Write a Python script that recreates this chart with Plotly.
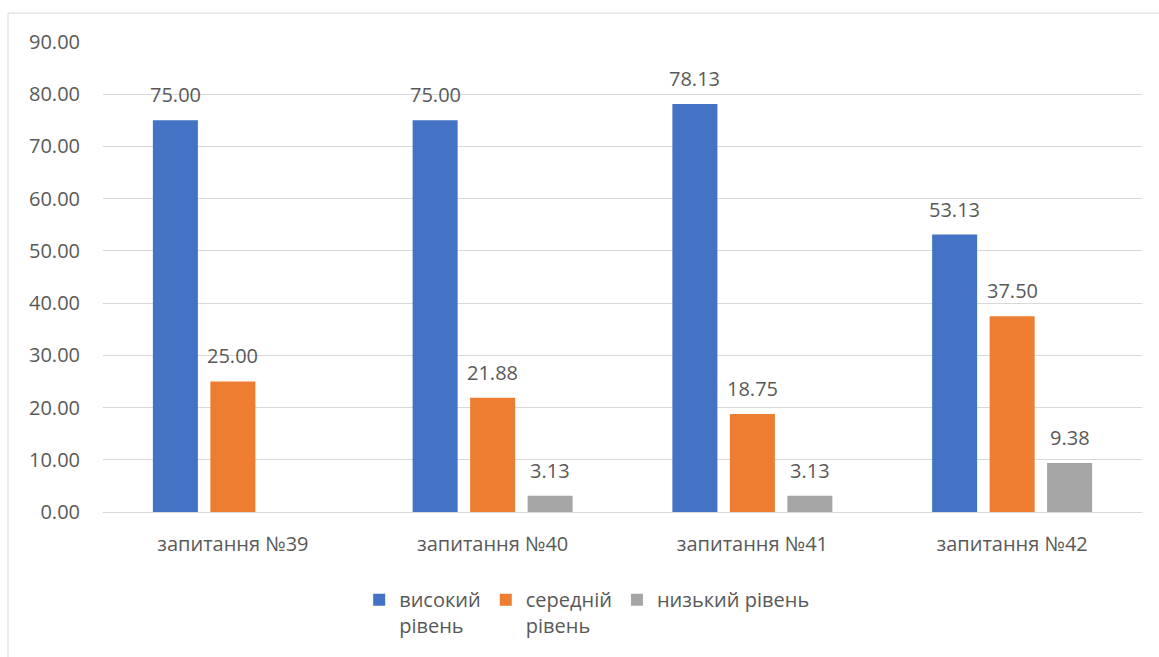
import plotly.graph_objects as go

categories = ["запитання №39", "запитання №40", "запитання №41", "запитання №42"]
series_names = ["високий<br>рівень", "середній<br>рівень", "низький рівень"]
high = [75.00, 75.00, 78.13, 53.13]
medium = [25.00, 21.88, 18.75, 37.50]
low = [None, 3.13, 3.13, 9.38]
colors = ["#4472C4", "#ED7D31", "#A5A5A5"]
y_ticks = [0, 10, 20, 30, 40, 50, 60, 70, 80, 90]

W, H = 1159, 657
L, R, T, B = 103, 17, 42, 143
BARGAP = 0.336
FONT = "Open Sans"
TXT = "#595959"

fig = go.Figure()
all_series = [high, medium, low]
for name, vals, col in zip(series_names, all_series, colors):
    fig.add_trace(go.Bar(x=categories, y=vals, name=name, marker_color=col,
                         marker_line_width=0, hoverinfo="skip"))

# data labels
plot_w = W - L - R
slot = plot_w / len(categories) * (1 - BARGAP) / len(all_series)
for si, vals in enumerate(all_series):
    off = (si - (len(all_series) - 1) / 2) * slot
    for c, v in zip(categories, vals):
        if v is None:
            continue
        fig.add_annotation(x=c, y=v, text=f"{v:.2f}", showarrow=False,
                           xshift=off, yshift=10, yanchor="bottom",
                           font=dict(family=FONT, size=20, color=TXT))

# outer border
x0 = (8 - L) / plot_w
x1 = (W + 10 - L) / plot_w
ph = H - T - B
y1 = (H - B - 13) / ph
y0 = (H - B - (H + 10)) / ph
fig.add_shape(type="rect", xref="paper", yref="paper", x0=x0, x1=x1, y0=y0, y1=y1,
              line=dict(color="#D9D9D9", width=1), layer="below")

fig.update_layout(
    width=W, height=H,
    margin=dict(l=L, r=R, t=T, b=B),
    paper_bgcolor="white", plot_bgcolor="white",
    barmode="group", bargap=BARGAP, bargroupgap=0.217,
    font=dict(family=FONT, size=20, color=TXT),
    showlegend=True,
    legend=dict(orientation="h", x=0.466, xanchor="center", y=-0.145, yanchor="top",
                valign="top", font=dict(family=FONT, size=20, color=TXT),
                traceorder="normal"),
    xaxis=dict(showgrid=False, showline=False, ticks="", tickfont=dict(size=20, color=TXT),
               zeroline=False, ticklabelstandoff=18),
    yaxis=dict(range=[0, 90], tickvals=y_ticks, tickformat=".2f", showgrid=True,
               gridcolor="#D9D9D9", gridwidth=1, zeroline=True, zerolinecolor="#D9D9D9",
               zerolinewidth=1, showline=False, ticks="", ticklabelstandoff=22,
               tickfont=dict(size=20, color=TXT)),
)

fig.write_html("out.html")
